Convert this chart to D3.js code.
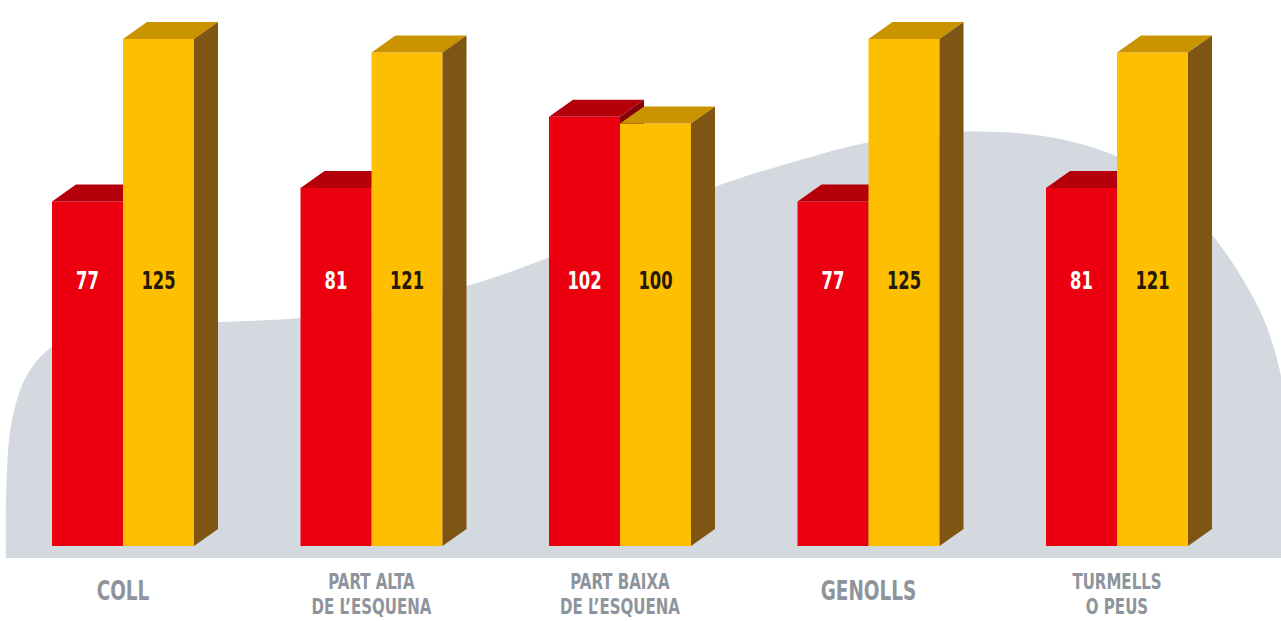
<!DOCTYPE html>
<html>
<head>
<meta charset="utf-8">
<script src="https://cdn.jsdelivr.net/npm/d3@7"></script>
<style>
  html, body { margin: 0; padding: 0; background: #fff; }
  svg { display: block; }
  .cond { font-family: "Liberation Sans Narrow", "DejaVu Sans Condensed", "Roboto", sans-serif; font-stretch: condensed; font-weight: bold; }
</style>
</head>
<body>
<svg id="chart"></svg>
<script>
// data
const categories = ["COLL", "PART ALTA\nDE L’ESQUENA", "PART BAIXA\nDE L’ESQUENA", "GENOLLS", "TURMELLS\nO PEUS"];
const seriesKeys = ["red", "yellow"];
const redValues = [77, 81, 102, 77, 81];
const yellowValues = [125, 121, 100, 125, 121];

const width = 1281;
const height = 621;
const baseY = 546; // bars stand on a floor below the zero line
const depthX = 24;
const depthY = 17;
const squeeze = 0.76; // the original type is narrower than any installed face

const colors = {
  red: { front: "#ec0010", top: "#b5000c", side: "#86000a", text: "#ffffff" },
  yellow: { front: "#fdbf00", top: "#c99400", side: "#7e5512", text: "#24180a" },
};

const svg = d3.select("#chart").attr("width", width).attr("height", height);

// grey backdrop hill
const hill = [
  [6, 558], [6, 500], [12, 420], [30, 370], [60, 342], [120, 328], [220, 322],
  [300, 318], [380, 305], [470, 285], [550, 257], [630, 222], [717, 186],
  [800, 160], [870, 142], [940, 133], [1000, 132], [1060, 139], [1120, 158],
  [1170, 190], [1213, 236], [1245, 283], [1268, 330], [1285, 400], [1290, 558],
];
svg.append("path")
  .attr("d", d3.line().curve(d3.curveCatmullRom.alpha(0.5))(hill) + "Z")
  .attr("fill", "#d4d9e0");

const x0 = d3.scaleBand()
  .domain(categories)
  .range([52, 1188])
  .paddingInner(0.4286)
  .paddingOuter(0);

const x1 = d3.scaleBand()
  .domain(seriesKeys)
  .range([0, x0.bandwidth()]);

const y = d3.scaleLinear().domain([0, 125]).range([462, 39]);

const rows = categories.map((c, i) => ({
  cat: c,
  bars: [
    { key: "red", value: redValues[i] },
    { key: "yellow", value: yellowValues[i] },
  ],
}));

const groups = svg.append("g").attr("class", "bars")
  .selectAll("g")
  .data(rows)
  .join("g")
  .attr("transform", (d) => `translate(${x0(d.cat)},0)`);

groups.each(function (row) {
  const g = d3.select(this);
  row.bars.forEach((b) => {
    const xl = x1(b.key);
    const xr = xl + x1.bandwidth();
    const yt = y(b.value);
    const c = colors[b.key];
    g.append("rect")
      .attr("x", xl).attr("y", yt)
      .attr("width", x1.bandwidth()).attr("height", baseY - yt)
      .attr("fill", c.front);
    g.append("polygon")
      .attr("points", [[xl, yt], [xl + depthX, yt - depthY], [xr + depthX, yt - depthY], [xr, yt]].join(" "))
      .attr("fill", c.top);
    g.append("polygon")
      .attr("points", [[xr, yt], [xr + depthX, yt - depthY], [xr + depthX, baseY - depthY], [xr, baseY]].join(" "))
      .attr("fill", c.side);
  });
  g.selectAll("text.val")
    .data(row.bars)
    .join("text")
    .attr("class", "val cond")
    .attr("transform", (d) => `translate(${x1(d.key) + x1.bandwidth() / 2},289) scale(${squeeze},1)`)
    .attr("text-anchor", "middle")
    .attr("font-size", 24)
    .attr("fill", (d) => colors[d.key].text)
    .text((d) => d.value);
});

// category labels
const labels = svg.append("g").attr("class", "labels")
  .selectAll("text")
  .data(categories)
  .join("text")
  .attr("class", "cond")
  .attr("text-anchor", "middle")
  .attr("fill", "#8e949c")
  .attr("transform", (d) => `translate(${x0(d) + x0.bandwidth() / 2},0) scale(${squeeze},1)`);

labels.each(function (d) {
  const lines = d.split("\n");
  const t = d3.select(this);
  if (lines.length === 1) {
    t.attr("y", 600).attr("font-size", 27).text(d);
  } else {
    t.attr("font-size", 22);
    lines.forEach((l, i) => {
      t.append("tspan").attr("x", 0).attr("y", 589 + i * 25).text(l);
    });
  }
});
</script>
</body>
</html>
